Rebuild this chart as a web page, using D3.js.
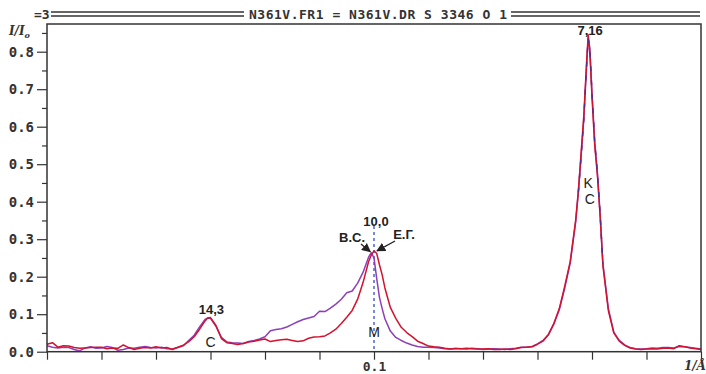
<!DOCTYPE html>
<html>
<head>
<meta charset="utf-8">
<script src="https://cdn.jsdelivr.net/npm/d3@7"></script>
<style>
  body { margin: 0; background: #fff; }
  svg { display: block; }
</style>
</head>
<body>
<svg id="chart" width="706" height="374"></svg>
<script>
// scattering vector, 1/Å
const q = [
  0.040,0.041,0.042,0.043,0.044,0.045,0.046,0.047,0.048,0.049,
  0.050,0.051,0.052,0.053,0.054,0.055,0.056,0.057,0.058,0.059,
  0.060,0.061,0.062,0.063,0.064,0.065,0.066,0.067,0.068,0.069,
  0.0695,
  0.070,0.071,0.072,0.073,0.074,0.075,0.076,0.077,0.078,0.079,
  0.080,0.081,0.082,0.083,0.084,0.085,0.086,0.087,0.088,0.089,
  0.090,0.091,0.092,0.093,0.094,0.095,0.096,0.097,0.098,0.099,
  0.0995,0.100,0.1005,0.101,0.1015,
  0.102,0.103,0.104,0.105,0.106,0.107,0.108,0.109,0.110,0.111,
  0.112,0.113,0.114,0.115,0.116,0.117,0.118,0.119,0.120,0.121,
  0.122,0.123,0.124,0.125,0.126,0.127,0.128,0.129,0.130,0.131,
  0.132,0.133,0.134,0.135,0.136,0.137,
  0.1375,0.138,0.1385,0.139,0.1393,0.1396,0.140,0.1405,0.141,0.1415,0.142,
  0.143,0.144,0.145,0.146,0.147,0.148,0.149,0.150,0.151,0.152,
  0.153,0.154,0.155,0.156,0.157,0.158,0.159,0.160
];

// Е.Г. (red)
const redI = [
  0.020,0.024,0.012,0.016,0.015,0.011,0.009,0.010,0.011,0.012,
  0.012,0.008,0.010,0.009,0.018,0.011,0.006,0.009,0.011,0.010,
  0.013,0.010,0.011,0.006,0.012,0.017,0.027,0.040,0.060,0.082,
  0.090,
  0.091,0.070,0.035,0.024,0.022,0.019,0.022,0.026,0.028,0.031,
  0.034,0.027,0.030,0.032,0.033,0.030,0.027,0.029,0.036,0.039,
  0.040,0.042,0.050,0.060,0.075,0.092,0.110,0.140,0.185,0.240,
  0.258,0.269,0.262,0.232,0.205,
  0.170,0.118,0.089,0.065,0.051,0.040,0.028,0.022,0.015,0.013,
  0.012,0.009,0.007,0.008,0.008,0.009,0.008,0.007,0.007,0.008,
  0.006,0.006,0.007,0.006,0.008,0.011,0.012,0.013,0.020,0.028,
  0.045,0.075,0.115,0.175,0.240,0.350,
  0.430,0.530,0.630,0.770,0.845,0.800,0.680,0.550,0.470,0.360,0.230,
  0.110,0.050,0.028,0.017,0.010,0.007,0.006,0.007,0.008,0.007,
  0.009,0.010,0.008,0.016,0.013,0.010,0.008,0.006
];

// В.С. (purple)
const purpleI = [
  0.016,0.012,0.010,0.012,0.011,0.006,0.002,0.010,0.013,0.009,
  0.010,0.014,0.011,0.004,0.006,0.010,0.009,0.012,0.014,0.011,
  0.010,0.012,0.008,0.007,0.011,0.016,0.030,0.044,0.066,0.086,
  0.090,
  0.089,0.068,0.038,0.026,0.024,0.023,0.022,0.027,0.030,0.034,
  0.040,0.056,0.059,0.061,0.066,0.073,0.080,0.086,0.090,0.094,
  0.108,0.107,0.116,0.127,0.140,0.157,0.162,0.183,0.212,0.252,
  0.264,0.250,0.195,0.145,0.115,
  0.088,0.055,0.038,0.030,0.023,0.018,0.014,0.012,0.012,0.011,
  0.010,0.008,0.007,0.009,0.008,0.007,0.009,0.008,0.006,0.007,
  0.008,0.007,0.006,0.008,0.009,0.012,0.012,0.014,0.021,0.030,
  0.046,0.074,0.112,0.170,0.236,0.345,
  0.425,0.520,0.620,0.760,0.835,0.810,0.690,0.560,0.475,0.365,0.235,
  0.115,0.052,0.030,0.018,0.011,0.008,0.007,0.008,0.010,0.009,
  0.011,0.011,0.010,0.014,0.013,0.011,0.009,0.007
];

const yTicks = [0,0.05,0.1,0.15,0.2,0.25,0.3,0.35,0.4,0.45,0.5,0.55,0.6,0.65,0.7,0.75,0.8,0.85];
const xTicks = [0.04,0.05,0.06,0.07,0.08,0.09,0.1,0.11,0.12,0.13,0.14,0.15,0.16];
const xLabels = [0.1];

// peak annotations: [q, text]
const peaks = [[0.0698,"14,3"],[0.1,"10,0"],[0.1393,"7,16"]];

const svg = d3.select("#chart");
const mLeft = 47, mRight = 701, mTop = 24, mBottom = 351.7;

let x = d3.scaleLinear().domain([0.04,0.16]).range([mLeft,mRight]);
let y = d3.scaleLinear().domain([0,0.8]).range([mBottom,51.7]);

const ink = "#333";
const mono = "'DejaVu Sans Mono', 'Liberation Mono', monospace";
const narrow = "'Liberation Sans Narrow', 'Arial Narrow', 'Liberation Sans', Arial, sans-serif";
const sans = "'Liberation Sans', Arial, sans-serif";

// header line
let head = svg.append("g").attr("fill",ink).attr("stroke",ink);
[[51,244],[511,700]].forEach(seg=>{
  [12,16].forEach(yy=>{
    head.append("line").attr("x1",seg[0]).attr("x2",seg[1])
      .attr("y1",yy).attr("y2",yy).attr("stroke-width",1.5);
  });
});
head.append("text").attr("x",34).attr("y",18.5).attr("stroke","none")
  .attr("font-family",mono).attr("font-weight","bold").attr("font-size",13)
  .text("=3");
head.append("text").attr("x",249).attr("y",18.5).attr("stroke","none")
  .attr("font-family",mono).attr("font-weight","bold").attr("font-size",13)
  .attr("textLength",258).attr("lengthAdjust","spacing")
  .text("N361V.FR1 = N361V.DR S 3346 O 1");

// y axis
let isMajor = d=>Math.abs(d*10-Math.round(d*10))<1e-6;
let yAxis = svg.append("g")
  .attr("transform","translate("+mLeft+",0)")
  .call(d3.axisLeft(y).tickValues(yTicks).tickSize(10).tickPadding(3)
    .tickFormat(d=>isMajor(d) ? d3.format(".1f")(d) : ""));
yAxis.select(".domain").remove();
yAxis.selectAll(".tick line").attr("stroke",ink).attr("stroke-width",1.2)
  .attr("x2",d=>isMajor(d) ? -10 : -5);
yAxis.selectAll(".tick text").attr("fill",ink)
  .attr("font-family",mono).attr("font-weight","bold").attr("font-size",14);

// x axis
let xAxis = svg.append("g")
  .attr("transform","translate(0,"+mBottom+")")
  .call(d3.axisBottom(x).tickValues(xTicks).tickSize(8).tickPadding(2)
    .tickFormat(d=>xLabels.some(v=>Math.abs(v-d)<1e-6) ? d3.format(".1f")(d) : ""));
xAxis.select(".domain").remove();
xAxis.selectAll(".tick line").attr("stroke",ink).attr("stroke-width",1.2);
xAxis.selectAll(".tick text").attr("fill",ink)
  .attr("font-family",mono).attr("font-weight","bold").attr("font-size",13);

// axis titles
let yt = svg.append("text").attr("x",9).attr("y",35).attr("fill",ink)
  .attr("font-family","'DejaVu Serif', 'Liberation Serif', serif")
  .attr("font-style","italic").attr("font-weight","bold").attr("font-size",12);
yt.append("tspan").text("I/I");
yt.append("tspan").attr("font-size",8).attr("dy",3).text("o");

svg.append("text").attr("x",684).attr("y",370).attr("fill",ink)
  .attr("font-family","'DejaVu Serif', 'Liberation Serif', serif")
  .attr("font-style","italic").attr("font-weight","bold").attr("font-size",12)
  .text("1/Å");

// marker line at 10,0
svg.append("line")
  .attr("x1",x(0.1)).attr("x2",x(0.1))
  .attr("y1",y(0.335)).attr("y2",mBottom)
  .attr("stroke","#1f3fc4").attr("stroke-width",1.2)
  .attr("stroke-dasharray","3,3");

// curves
let line = d3.line().x(d=>x(d[0])).y(d=>y(d[1]));
let plot = svg.append("g");
let purplePts = q.map((v,i)=>[v,purpleI[i]]);
plot.append("path")
  .datum(purplePts)
  .attr("d",line).attr("fill","none")
  .attr("stroke","#8e3fb8").attr("stroke-width",1.5).attr("stroke-linejoin","round");
plot.append("path")
  .datum(q.map((v,i)=>[v,redI[i]]))
  .attr("d",line).attr("fill","none")
  .attr("stroke","#d3122e").attr("stroke-width",1.5).attr("stroke-linejoin","round");
// where both curves coincide on the big peak the purple shows through in dashes
plot.append("path")
  .datum(purplePts.filter(d=>d[0]>=0.1375 && d[0]<=0.1425))
  .attr("d",line).attr("fill","none")
  .attr("stroke","#5b2a8c").attr("stroke-width",1.4)
  .attr("stroke-dasharray","5,9");

// frame
svg.append("rect")
  .attr("x",mLeft).attr("y",mTop)
  .attr("width",mRight-mLeft).attr("height",mBottom-mTop)
  .attr("fill","none").attr("stroke",ink).attr("stroke-width",1.5);

// peak labels
svg.selectAll(".peak").data(peaks).enter()
  .append("text").attr("class","peak")
  .attr("x",d=>x(d[0])+2)
  .attr("y",(d,i)=>[314,226,35][i])
  .attr("text-anchor","middle").attr("fill","#222")
  .attr("font-family",narrow).attr("font-weight","bold").attr("font-size",13)
  .text(d=>d[1]);

// letters
const letters = [[0.0700,347,"C"],[0.1,337,"M"],[0.1393,188,"K"],[0.1396,204,"C"]];
svg.selectAll(".let").data(letters).enter()
  .append("text").attr("class","let")
  .attr("x",d=>x(d[0])).attr("y",d=>d[1])
  .attr("text-anchor","middle").attr("fill","#222")
  .attr("font-family",sans).attr("font-size",14)
  .text(d=>d[2]);

// arrows for В.С. and Е.Г.
svg.append("defs").append("marker")
  .attr("id","ah").attr("viewBox","0 0 10 10").attr("refX",9).attr("refY",5)
  .attr("markerWidth",7).attr("markerHeight",7).attr("orient","auto")
  .append("path").attr("d","M0,0L10,5L0,10z").attr("fill","#222");

svg.append("text").attr("x",352).attr("y",242).attr("text-anchor","middle")
  .attr("fill","#222").attr("font-family",narrow).attr("font-weight","bold")
  .attr("font-size",13).text("В.С.");
svg.append("line").attr("x1",361).attr("y1",244)
  .attr("x2",x(0.0995)-1).attr("y2",y(0.264)-1)
  .attr("stroke","#222").attr("stroke-width",1.3).attr("marker-end","url(#ah)");

svg.append("text").attr("x",404).attr("y",239).attr("text-anchor","middle")
  .attr("fill","#222").attr("font-family",narrow).attr("font-weight","bold")
  .attr("font-size",13).text("Е.Г.");
svg.append("line").attr("x1",395).attr("y1",241)
  .attr("x2",x(0.1)+3).attr("y2",y(0.269))
  .attr("stroke","#222").attr("stroke-width",1.3).attr("marker-end","url(#ah)");
</script>
</body>
</html>
